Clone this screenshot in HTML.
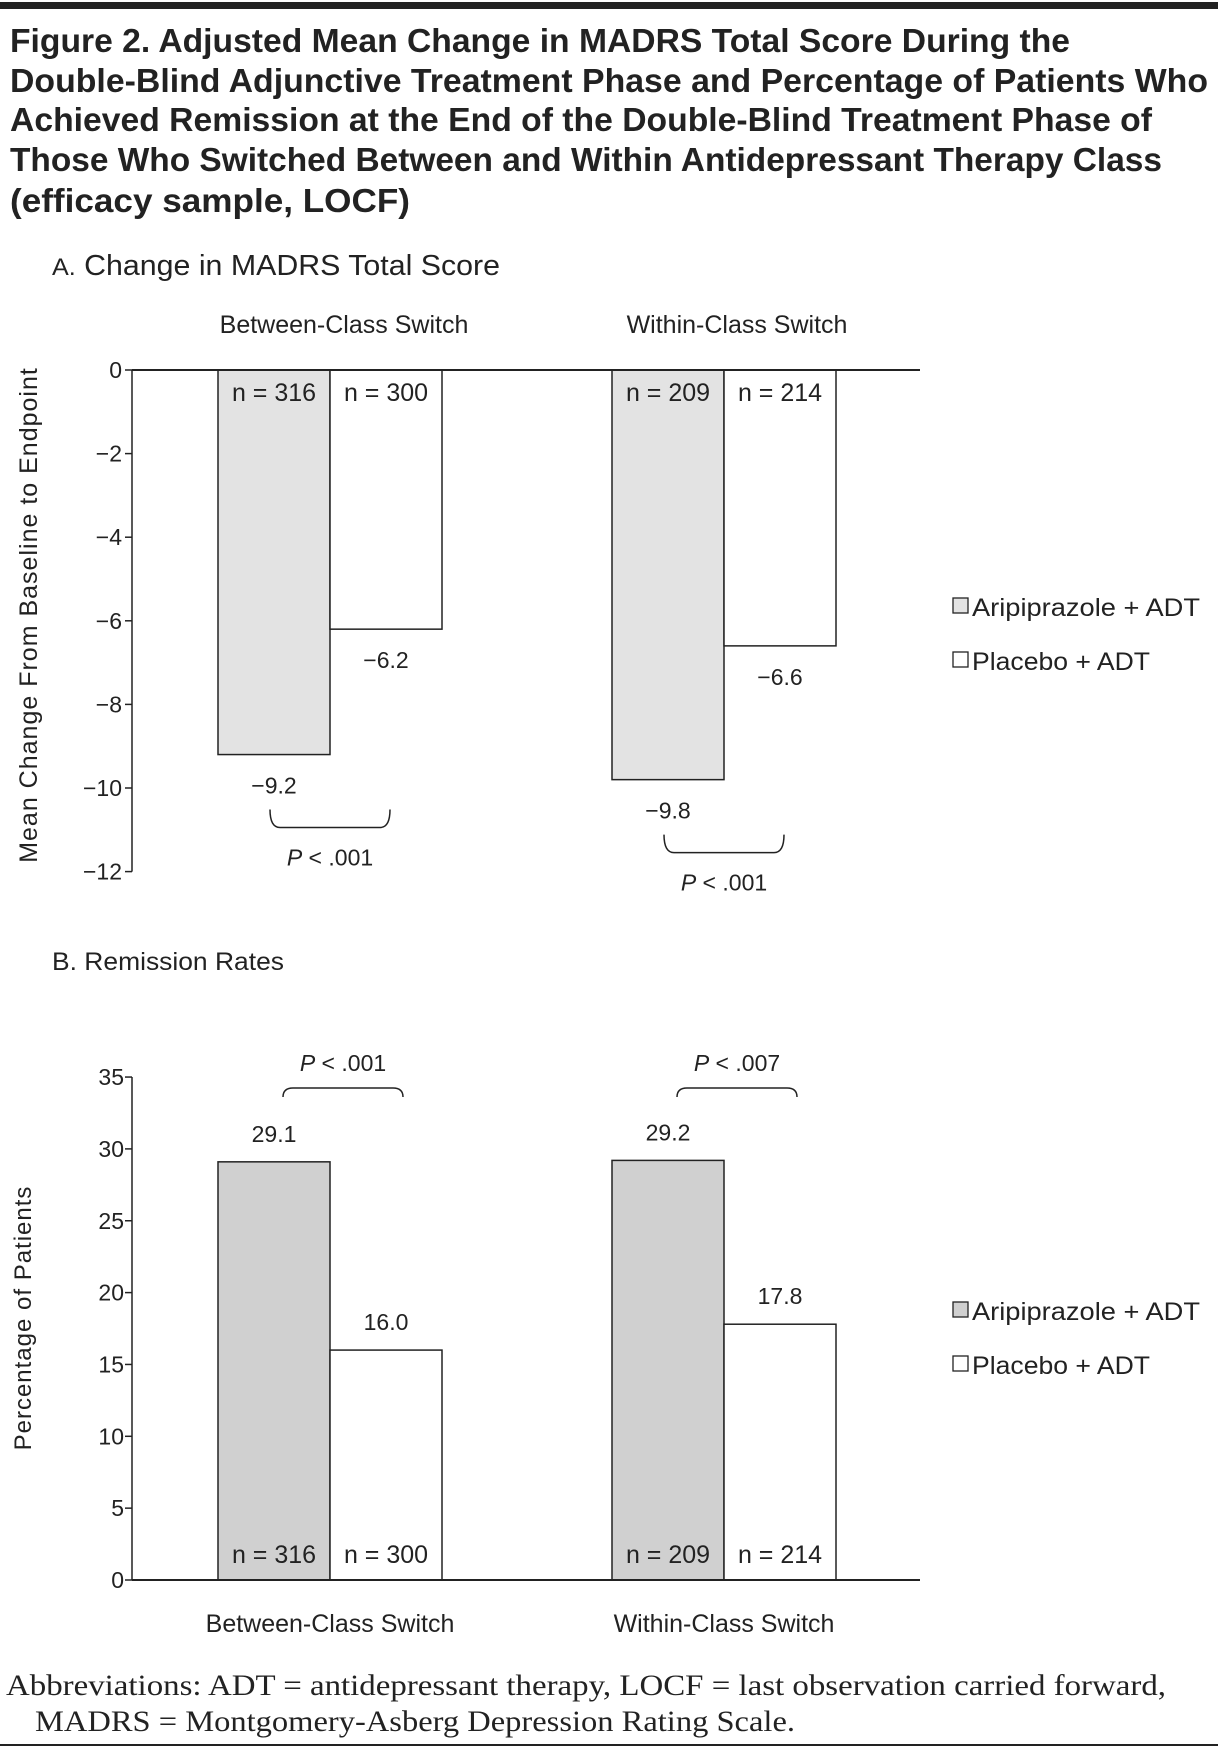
<!DOCTYPE html>
<html><head><meta charset="utf-8"><style>
body{margin:0;background:#fff}
svg{display:block;font-family:"Liberation Sans",sans-serif}
</style></head><body>
<svg id="fig" width="1226" height="1747" viewBox="0 0 1226 1747">
<rect x="0" y="2" width="1218" height="7" fill="#222"/>
<g font-weight="bold" font-size="33" fill="#222">
<text x="10" y="52" textLength="1060" lengthAdjust="spacingAndGlyphs">Figure 2. Adjusted Mean Change in MADRS Total Score During the</text>
<text x="10" y="92" textLength="1198" lengthAdjust="spacingAndGlyphs">Double-Blind Adjunctive Treatment Phase and Percentage of Patients Who</text>
<text x="10" y="131" textLength="1142" lengthAdjust="spacingAndGlyphs">Achieved Remission at the End of the Double-Blind Treatment Phase of</text>
<text x="10" y="171" textLength="1152" lengthAdjust="spacingAndGlyphs">Those Who Switched Between and Within Antidepressant Therapy Class</text>
<text x="10" y="212" textLength="400" lengthAdjust="spacingAndGlyphs">(efficacy sample, LOCF)</text>
</g>
<text x="52" y="275" font-size="29" fill="#222" textLength="448" lengthAdjust="spacingAndGlyphs"><tspan font-size="24">A.</tspan>  Change in MADRS Total Score</text>
<text x="52" y="970" font-size="25" fill="#222" textLength="232" lengthAdjust="spacingAndGlyphs">B.  Remission Rates</text>
<g id="chartA"></g>
<g id="chartB"></g>
<g font-family="Liberation Serif,serif" font-size="30" fill="#222">
<text x="6" y="1695" textLength="1160" lengthAdjust="spacingAndGlyphs">Abbreviations: ADT = antidepressant therapy, LOCF = last observation carried forward,</text>
<text x="35" y="1731" textLength="760" lengthAdjust="spacingAndGlyphs">MADRS = Montgomery-Asberg Depression Rating Scale.</text>
</g>
<rect x="0" y="1744" width="1218" height="2" fill="#222"/>
</svg>
<script>
const groups = ["Between-Class Switch", "Within-Class Switch"];
const seriesNames = ["Aripiprazole + ADT", "Placebo + ADT"];
const changeArip = [-9.2, -9.8];
const changePlac = [-6.2, -6.6];
const changeLabels = ["\u22129.2", "\u22129.8"];
const changePlacLabels = ["\u22126.2", "\u22126.6"];
const remArip = [29.1, 29.2];
const remPlac = [16.0, 17.8];
const remAripLabels = ["29.1", "29.2"];
const remPlacLabels = ["16.0", "17.8"];
const nArip = ["n = 316", "n = 209"];
const nPlac = ["n = 300", "n = 214"];
const pA = ["P < .001", "P < .001"];
const pB = ["P < .001", "P < .007"];
const ticksA = [0, -2, -4, -6, -8, -10, -12];
const ticksB = [0, 5, 10, 15, 20, 25, 30, 35];

const NS = "http://www.w3.org/2000/svg";
function mk(parent, tag, attrs, txt){
  const e = document.createElementNS(NS, tag);
  for (const k in attrs) e.setAttribute(k, attrs[k]);
  if (txt !== undefined) e.textContent = txt;
  parent.appendChild(e);
  return e;
}
const groupX = [218, 612];
const barW = 112;
const axisX = 132;
const xEnd = 920;

// Panel A
const A = document.getElementById('chartA');
const yA = v => 370 - v * 41.8;
ticksA.forEach(t => {
  const l = mk(A, 'line', {x1: axisX-7, x2: axisX, y1: yA(t), y2: yA(t), stroke: '#222', 'stroke-width': 1.5});
  
  
  const tx = mk(A, 'text', {x: axisX-10, y: yA(t)+8, 'text-anchor': 'end', 'font-size': 23, fill: '#222'}, t === 0 ? '0' : '\u2212' + Math.abs(t));
  
  
});
groups.forEach((g, i) => {
  const x0 = groupX[i];
  const b1 = mk(A, 'rect', {x: x0, y: yA(0), width: barW, height: yA(changeArip[i]) - yA(0), fill: '#e3e3e3', stroke: '#222', 'stroke-width': 1.5});
  
  
  const b2 = mk(A, 'rect', {x: x0+barW, y: yA(0), width: barW, height: yA(changePlac[i]) - yA(0), fill: '#fff', stroke: '#222', 'stroke-width': 1.5});
  
  
  const n1 = mk(A, 'text', {x: x0+barW/2, y: yA(0)+31, 'text-anchor': 'middle', 'font-size': 25, fill: '#222'}, nArip[i]);
  
  
  const n2 = mk(A, 'text', {x: x0+barW*1.5, y: yA(0)+31, 'text-anchor': 'middle', 'font-size': 25, fill: '#222'}, nPlac[i]);
  
  
  const v1 = mk(A, 'text', {x: x0+barW/2, y: yA(changeArip[i])+39, 'text-anchor': 'middle', 'font-size': 23, fill: '#222'}, changeLabels[i]);
  
  
  const v2 = mk(A, 'text', {x: x0+barW*1.5, y: yA(changePlac[i])+39, 'text-anchor': 'middle', 'font-size': 23, fill: '#222'}, changePlacLabels[i]);
  
  
  const by = yA(changeArip[i]) + 55;
  const bx1 = x0 + barW/2 - 4, bx2 = x0 + barW*1.5 + 4;
  const br = mk(A, 'path', {d: `M${bx1} ${by} q0 18 10 18 L${bx2-10} ${by+18} q10 0 10 -18`, fill: 'none', stroke: '#222', 'stroke-width': 1.5});
  
  
  const p = mk(A, 'text', {x: (bx1+bx2)/2, y: by+56, 'text-anchor': 'middle', 'font-size': 23, fill: '#222'});
  
  
  p.innerHTML = '<tspan font-style="italic">P</tspan>' + pA[i].slice(1);
  const gl = mk(A, 'text', {x: x0+barW + 8 * (i?1:-4) /4, y: 333, 'text-anchor': 'middle', 'font-size': 25, fill: '#222'}, g);
  gl.setAttribute('x', i === 0 ? 344 : 737);
  
  
});
const axA = mk(A, 'line', {x1: axisX, x2: axisX, y1: yA(0), y2: yA(-12), stroke: '#222', 'stroke-width': 1.5});


const zA = mk(A, 'line', {x1: axisX, x2: xEnd, y1: yA(0), y2: yA(0), stroke: '#222', 'stroke-width': 2});


const ytA = mk(A, 'text', {x: 0, y: 0, transform: 'translate(37,615) rotate(-90)', 'text-anchor': 'middle', 'font-size': 25, fill: '#222', 'letter-spacing': 1}, 'Mean Change  From Baseline to Endpoint');



// Panel B
const B = document.getElementById('chartB');
const yB = v => 1580 - v * 14.37;
ticksB.forEach(t => {
  const l = mk(B, 'line', {x1: axisX-7, x2: axisX, y1: yB(t), y2: yB(t), stroke: '#222', 'stroke-width': 1.5});
  
  
  const tx = mk(B, 'text', {x: axisX-8, y: yB(t)+8, 'text-anchor': 'end', 'font-size': 23, fill: '#222'}, String(t));
  
  
});
groups.forEach((g, i) => {
  const x0 = groupX[i];
  const b1 = mk(B, 'rect', {x: x0, y: yB(remArip[i]), width: barW, height: yB(0) - yB(remArip[i]), fill: '#d0d0d0', stroke: '#222', 'stroke-width': 1.5});
  
  
  const b2 = mk(B, 'rect', {x: x0+barW, y: yB(remPlac[i]), width: barW, height: yB(0) - yB(remPlac[i]), fill: '#fff', stroke: '#222', 'stroke-width': 1.5});
  
  
  const n1 = mk(B, 'text', {x: x0+barW/2, y: 1563, 'text-anchor': 'middle', 'font-size': 25, fill: '#222'}, nArip[i]);
  
  
  const n2 = mk(B, 'text', {x: x0+barW*1.5, y: 1563, 'text-anchor': 'middle', 'font-size': 25, fill: '#222'}, nPlac[i]);
  
  
  const v1 = mk(B, 'text', {x: x0+barW/2, y: yB(remArip[i])-20, 'text-anchor': 'middle', 'font-size': 23, fill: '#222'}, remAripLabels[i]);
  
  
  const v2 = mk(B, 'text', {x: x0+barW*1.5, y: yB(remPlac[i])-20, 'text-anchor': 'middle', 'font-size': 23, fill: '#222'}, remPlacLabels[i]);
  
  
  const bx1 = x0 + 65, bx2 = x0 + 185;
  const br = mk(B, 'path', {d: `M${bx1} 1097 q0 -9 10 -9 L${bx2-10} 1088 q10 0 10 9`, fill: 'none', stroke: '#222', 'stroke-width': 1.5});
  
  
  const p = mk(B, 'text', {x: (bx1+bx2)/2, y: 1071, 'text-anchor': 'middle', 'font-size': 23, fill: '#222'});
  
  
  p.innerHTML = '<tspan font-style="italic">P</tspan>' + pB[i].slice(1);
  const gl = mk(B, 'text', {x: x0+barW, y: 1632, 'text-anchor': 'middle', 'font-size': 25, fill: '#222'}, g);
  
  
});
const axB = mk(B, 'line', {x1: axisX, x2: axisX, y1: yB(0), y2: yB(35), stroke: '#222', 'stroke-width': 1.5});


const zB = mk(B, 'line', {x1: axisX, x2: xEnd, y1: yB(0), y2: yB(0), stroke: '#222', 'stroke-width': 2});


const ytB = mk(B, 'text', {x: 0, y: 0, transform: 'translate(31,1318) rotate(-90)', 'text-anchor': 'middle', 'font-size': 24, fill: '#222', 'letter-spacing': 1}, 'Percentage of Patients');



// Legends
[[A, 608, '#e3e3e3'], [B, 1312, '#d0d0d0']].forEach(([par, y0, fill]) => {
  seriesNames.forEach((s, j) => {
    const y = y0 + j * 54;
    const sq = mk(par, 'rect', {x: 953, y: y-10, width: 15, height: 15, fill: j === 0 ? fill : '#fff', stroke: '#222', 'stroke-width': 1.3});
    
    
    const t = mk(par, 'text', {x: 972, y: y+8, 'font-size': 25, fill: '#222', textLength: j === 0 ? 228 : 178, lengthAdjust: 'spacingAndGlyphs'}, s);
    
    
  });
});
</script>
</body></html>
